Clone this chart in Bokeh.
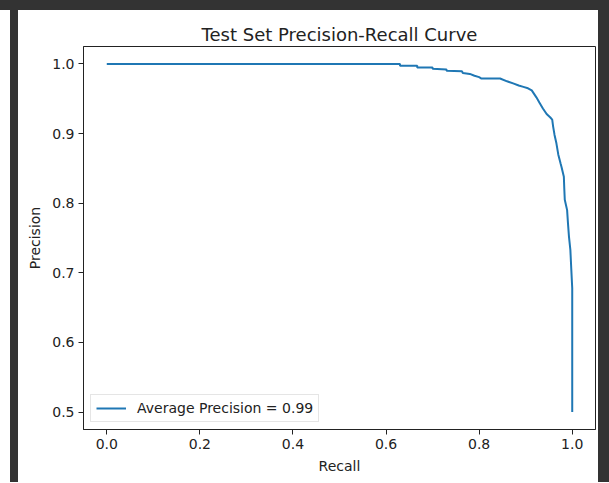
from bokeh.plotting import figure
from bokeh.models import Range1d, Spacer, FixedTicker, Legend, LegendItem, NumeralTickFormatter
from bokeh.layouts import column, row
from bokeh.embed import file_html
from bokeh.resources import INLINE

# Precision-recall curve points
recall = [0.0, 0.63, 0.63, 0.667, 0.667, 0.70, 0.70, 0.73, 0.73, 0.763,
          0.765, 0.78, 0.79, 0.80, 0.805, 0.845, 0.86, 0.873, 0.885, 0.895,
          0.905, 0.913, 0.918, 0.923, 0.930, 0.937, 0.945, 0.953, 0.957, 0.959,
          0.962, 0.966, 0.970, 0.975, 0.977, 0.982, 0.983, 0.984, 0.989, 0.991,
          0.993, 0.996, 0.998, 1.0, 1.0]
precision = [1.0, 1.0, 0.9975, 0.9975, 0.995, 0.995, 0.993, 0.992, 0.990, 0.9895,
             0.987, 0.9856, 0.983, 0.981, 0.979, 0.979, 0.975, 0.972, 0.969, 0.967,
             0.965, 0.962, 0.957, 0.952, 0.944, 0.936, 0.928, 0.923, 0.920, 0.910,
             0.898, 0.886, 0.870, 0.857, 0.852, 0.838, 0.820, 0.805, 0.790, 0.770,
             0.752, 0.733, 0.705, 0.678, 0.5]
x_ticks = [0.0, 0.2, 0.4, 0.6, 0.8, 1.0]
y_ticks = [0.5, 0.6, 0.7, 0.8, 0.9, 1.0]
title_text = "Test Set Precision-Recall Curve"
legend_text = "Average Precision = 0.99"

FONT = "DejaVu Sans"
TXT = "#222222"
DARK = "#333333"

p = figure(width=580, height=472, output_backend="svg", toolbar_location=None,
           x_range=Range1d(-0.05, 1.05), y_range=Range1d(0.475, 1.025),
           min_border_left=65, min_border_right=3, min_border_top=36,
           min_border_bottom=53, background_fill_color="white",
           border_fill_color="white")
p.title.text = title_text
p.title.text_font = FONT
p.title.text_font_size = "18px"
p.title.text_font_style = "normal"
p.title.text_color = TXT
p.title.align = "center"
p.title.standoff = 4

p.outline_line_color = "#222222"
p.outline_line_width = 1
p.xgrid.visible = False
p.ygrid.visible = False

for ax, ticks, lab in ((p.xaxis[0], x_ticks, "Recall"), (p.yaxis[0], y_ticks, "Precision")):
    ax.ticker = FixedTicker(ticks=ticks)
    ax.formatter = NumeralTickFormatter(format="0.0")
    ax.minor_tick_line_color = None
    ax.major_tick_in = 0
    ax.major_tick_out = 5
    ax.major_tick_line_color = "#222222"
    ax.axis_line_color = "#222222"
    ax.major_label_text_font = FONT
    ax.major_label_text_font_size = "14px"
    ax.major_label_text_color = TXT
    ax.major_label_standoff = 4
    ax.axis_label = lab
    ax.axis_label_text_font = FONT
    ax.axis_label_text_font_size = "14px"
    ax.axis_label_text_font_style = "normal"
    ax.axis_label_text_color = TXT
    ax.axis_label_standoff = 6

r = p.line(recall, precision, line_color="#1f77b4", line_width=2)

leg = Legend(items=[LegendItem(label=legend_text, renderers=[r])],
             location="bottom_left")
leg.margin = 7
leg.padding = 5
leg.spacing = 0
leg.glyph_width = 30
leg.glyph_height = 16
leg.label_height = 16
leg.label_standoff = 11
leg.label_text_font = FONT
leg.label_text_font_size = "14px"
leg.label_text_color = TXT
leg.border_line_color = "#cccccc"
leg.background_fill_alpha = 0.8
p.add_layout(leg)

top_bar = Spacer(width=609, height=10, styles={"background-color": DARK})
left_white = Spacer(width=10, height=472, styles={"background-color": "white"})
left_bar = Spacer(width=8, height=472, styles={"background-color": DARK})
right_bar = Spacer(width=11, height=472, styles={"background-color": DARK})
layout = column(top_bar, row(left_white, left_bar, p, right_bar))

open("out.html", "w").write(file_html(layout, INLINE))
